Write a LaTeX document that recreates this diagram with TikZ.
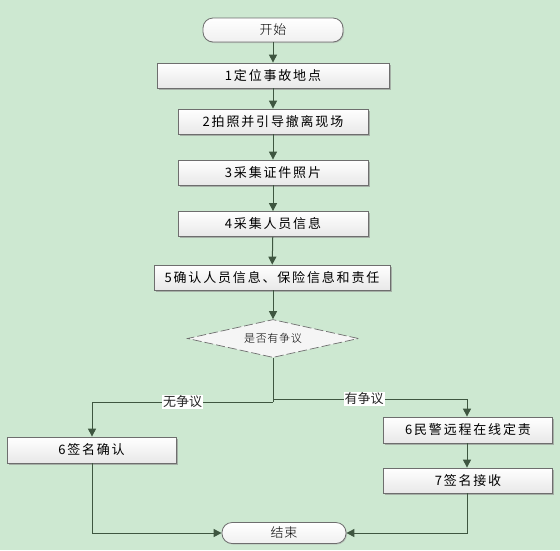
\documentclass[tikz,border=0pt]{standalone}
\usepackage{fontspec}
\setmainfont{Noto Sans CJK SC}
\newfontfamily\boxfont[LetterSpace=14]{Noto Sans CJK SC}
\newfontfamily\lightfont[LetterSpace=6]{Noto Sans CJK SC Light}
\usetikzlibrary{shapes.geometric,shadows,arrows.meta}
\definecolor{bg}{RGB}{205,232,209}
\definecolor{ln}{RGB}{62,86,64}
\definecolor{bd}{RGB}{110,110,110}
\tikzset{
  stepbox/.style={draw=bd, line width=0.8pt, top color=white, bottom color=black!9,
    minimum height=25pt, inner sep=0pt, font=\boxfont\fontsize{13}{15}\selectfont,
    drop shadow={shadow xshift=1.5pt, shadow yshift=-1.5pt, fill=black!45, opacity=.6}},
  pill/.style={draw=bd, line width=0.8pt, rounded corners=10pt, top color=white, bottom color=black!6,
    inner sep=0pt, font=\lightfont\fontsize{13}{15}\selectfont,
    drop shadow={shadow xshift=1pt, shadow yshift=-1pt, fill=black!35, opacity=.5}},
  decision/.style={diamond, aspect=4.5, draw=bd, dashed, dash pattern=on 9pt off 3pt, line width=0.7pt,
    fill=white!96!black, inner sep=0pt, minimum width=171pt, minimum height=38pt,
    font=\lightfont\fontsize{11}{13}\selectfont},
  arr/.style={draw=ln, line width=1pt, -{Triangle[length=8pt,width=8pt]}},
  lab/.style={fill=white, inner sep=1pt, font=\fontsize{13}{15}\selectfont, text=black!85}
}
\begin{document}
\begin{tikzpicture}[x=1pt,y=-1pt]
\fill[bg] (0,0) rectangle (560,550);
\useasboundingbox (0,0) rectangle (560,550);

\node[pill, minimum width=140pt, minimum height=24pt] (start) at (273,30) {开始};
\node[stepbox, minimum width=232pt] (b1) at (273,75.5) {1定位事故地点};
\node[stepbox, minimum width=190pt] (b2) at (273,121.5) {2拍照并引导撤离现场};
\node[stepbox, minimum width=190pt] (b3) at (273,172.5) {3采集证件照片};
\node[stepbox, minimum width=190pt] (b4) at (273,224) {4采集人员信息};
\node[stepbox, minimum width=236pt] (b5) at (272,277.5) {5确认人员信息、保险信息和责任};
\node[decision] (dec) at (273,338.5) {是否有争议};
\node[stepbox, minimum width=169pt, minimum height=26pt] (b6l) at (91.5,450) {6签名确认};
\node[stepbox, minimum width=169pt, minimum height=26pt] (b6r) at (468,430) {6民警远程在线定责};
\node[stepbox, minimum width=169pt, minimum height=25pt] (b7) at (468,480.5) {7签名接收};
\node[pill, minimum width=124pt, minimum height=21pt] (end) at (284,533) {结束};

\coordinate (splitl) at (273,402);
\coordinate (splitr) at (273,399);
\coordinate (cl) at (92,402);
\coordinate (cr) at (467,399);
\coordinate (bl) at (92,533);
\coordinate (br) at (467,533);

\draw[arr] (start) -- (b1);
\draw[arr] (b1) -- (b2);
\draw[arr] (b2) -- (b3);
\draw[arr] (b3) -- (b4);
\draw[arr] (b4) -- (b5);
\draw[arr] (b5.south -| dec.north) -- (dec.north);
\draw[draw=ln, line width=1pt] (dec.south) -- (splitl);
\draw[arr] (splitl) -- node[lab, pos=.5]{无争议} (cl) -- (b6l.north -| cl);
\draw[arr] (splitr) -- node[lab, pos=.47]{有争议} (cr) -- (b6r.north -| cr);
\draw[arr] (b6r.south -| cr) -- (b7.north -| cr);
\draw[arr] (b6l.south -| bl) -- (bl) -- (end.west);
\draw[arr] (b7.south -| br) -- (br) -- (end.east);
\end{tikzpicture}
\end{document}
